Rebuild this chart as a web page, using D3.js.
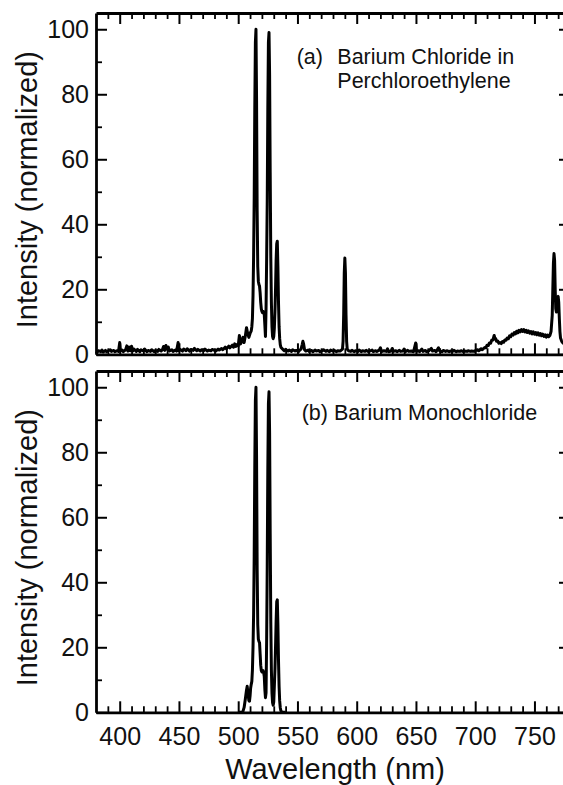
<!DOCTYPE html>
<html>
<head>
<meta charset="utf-8">
<script src="https://cdn.jsdelivr.net/npm/d3@7"></script>
<style>
  html, body { margin: 0; padding: 0; background: #fff; }
  svg { display: block; font-family: "Liberation Sans", Arial, Helvetica, sans-serif; }
</style>
</head>
<body>
<svg id="chart" width="563" height="785"></svg>
<script>
// ---------------- DATA ----------------
const xMajorTicks = [400, 450, 500, 550, 600, 650, 700, 750];
const xMinorTicks = [390, 410, 420, 430, 440, 460, 470, 480, 490, 510, 520, 530, 540, 560, 570, 580, 590,
                     610, 620, 630, 640, 660, 670, 680, 690, 710, 720, 730, 740, 760, 770];
const yMajorTicks = [0, 20, 40, 60, 80, 100];
const yMinorTicks = [10, 30, 50, 70, 90];
const xTitle = "Wavelength (nm)";
const yTitle = "Intensity (normalized)";
const labelA = ["(a)", "Barium Chloride in", "Perchloroethylene"];
const labelB = "(b) Barium Monochloride";

// (a) Barium Chloride in Perchloroethylene  [wavelength nm, normalized intensity]
const spectrumA = [
[380,0.9],[381,0.6],[382,1.1],[384,0.8],[385,1.3],[386,0.7],[388,1.2],[389,0.8],[390,1.0],[392,1.4],[393,0.9],
[395,1.2],[396,0.8],[398,1.1],[399,0.9],[400,3.6],[400.6,1.0],[402,1.3],[403,0.8],[405,1.4],[406,2.6],[407,1.0],
[408,2.2],[409,1.1],[410,2.5],[411,1.0],[412,1.6],[414,0.9],[415,1.5],[417,0.8],[418,1.4],[420,1.0],[421,1.6],
[423,0.8],[424,1.2],[426,0.9],[427,1.4],[429,0.8],[430,1.2],[432,0.9],[433,1.5],[435,1.0],[436,1.4],[437,2.4],
[438,1.2],[439,2.7],[440,1.6],[441,2.2],[442,1.0],[444,1.4],[445,0.9],[447,1.3],[448,1.0],[449.3,3.6],[450,1.1],
[451,1.5],[453,1.0],[454,1.6],[456,1.1],[457,1.7],[459,1.0],[460,1.5],[462,1.2],[463,1.8],[465,1.1],[466,1.5],
[468,1.0],[469,1.4],[471,1.1],[472,1.6],[474,1.0],[475,1.3],[477,1.1],[478,1.5],[480,1.2],[481,1.0],[483,1.6],
[484,1.3],[486,1.8],[487,1.4],[489,2.2],[490,1.7],[492,2.5],[493,2.0],[495,2.8],[496,2.2],[497,3.2],[498,2.4],
[499,3.0],[500,2.6],[501,5.8],[502,3.2],[503,4.0],[504,5.2],[505,3.6],[506,5.6],[507,8.2],[508,6.4],[509,5.2],
[510,6.4],[511,7.2],[511.5,8.5],[512,11],[512.5,18],[513,30],[513.5,48],[514,76],[514.5,96],[515,100],[515.5,78],
[516,44],[516.5,27],[517,22.5],[517.5,21.5],[518,21],[518.5,19],[519,16],[519.5,14],[520,13.2],[520.5,12.8],
[521,13.2],[521.5,12.6],[522,12.3],[522.5,9],[523,5.5],[523.5,14],[524,29],[524.5,47],[525,76],[525.5,96],
[526,99],[526.5,86],[527,56],[527.5,30],[528,16],[528.5,8.5],[529,5.5],[529.5,4.8],[530,5.5],[530.5,8],[531,13],
[531.5,20],[532,29],[532.5,34],[533,34.8],[533.5,27],[534,16],[534.5,8.5],[535,4.8],[535.5,3],[536,2.2],[537,1.8],
[538,1.4],[539,1.1],[540,1.5],[542,1.0],[543,1.3],[545,0.9],[546,1.4],[548,1.0],[549,1.2],[551,0.9],[552,1.3],
[553,1.6],[554,3.0],[554.6,4.0],[555.2,3.2],[556,1.4],[557,1.0],[559,1.3],[560,0.9],[562,1.2],[563,0.8],[565,1.3],
[566,1.0],[568,1.2],[569,0.8],[571,1.1],[572,1.4],[574,0.9],[575,1.2],[577,0.8],[578,1.3],[580,1.0],[581,1.2],
[583,0.8],[584,1.1],[586,1.0],[587,1.3],[588,1.6],[588.5,4],[589,12],[589.5,25],[590,29.6],[590.5,25],[591,12],
[591.5,4],[592,1.6],[593,1.1],[595,0.9],[596,1.2],[598,0.8],[599,1.1],[601,0.9],[602,1.3],[604,0.8],[605,1.1],
[607,0.9],[608,1.2],[610,0.8],[611,1.0],[613,1.3],[614,0.8],[616,1.1],[617,0.9],[619,1.3],[620,2.0],[621,0.8],
[623,1.1],[625,0.9],[626,1.7],[627,0.8],[629,1.0],[630,1.8],[631,0.9],[633,1.1],[634,0.8],[636,1.2],[637,0.9],
[639,1.0],[640,1.6],[641,0.8],[643,1.2],[644,0.9],[646,1.0],[648,0.8],[649.8,3.5],[650.5,0.9],[652,1.1],[653,0.8],
[655,1.6],[656,0.9],[658,1.2],[659,0.8],[661,1.1],[663,1.8],[664,1.0],[666,1.2],[667,0.8],[669,2.0],[670,1.0],
[672,0.8],[673,1.2],[675,0.9],[676,1.1],[678,0.8],[679,1.0],[681,0.9],[682,1.2],[684,0.8],[685,1.0],[687,0.9],
[688,1.1],[690,0.8],[691,1.0],[693,0.9],[694,1.1],[696,0.9],[697,1.0],[699,0.9],[700,1.1],[702,1.4],[703,1.1],
[705,1.7],[706,1.4],[708,2.1],[709,2.0],[710,2.8],[711,2.7],[712,3.5],[713,3.4],[714,4.4],[715,4.4],[716,5.8],
[716.6,5.0],[717.3,4.8],[718,4.0],[719,4.1],[720,3.4],[721,3.6],[722,3.3],[723,3.9],[724,3.7],[725,4.4],[726,4.3],
[727,5.0],[728,4.8],[729,5.7],[730,5.4],[731,6.2],[732,5.9],[733,6.7],[734,6.3],[735,7.1],[736,6.6],[737,7.4],
[738,6.9],[739,7.6],[740,7.0],[741,7.6],[742,6.9],[743,7.4],[744,6.7],[745,7.2],[746,6.5],[747,7.0],[748,6.3],
[749,6.9],[750,6.2],[751,6.7],[752,6.0],[753,6.6],[754,5.9],[755,6.4],[756,5.7],[757,6.2],[758,5.5],[759,6.0],
[760,5.3],[761,5.9],[762,5.4],[763,5.8],[764,7],[765,12],[765.5,20],[766,28],[766.5,31],[767,29],[767.5,20],
[768,14],[768.5,13],[769,15],[769.5,17.5],[770,17.8],[770.5,16],[771,11],[771.5,7],[772,5],[773,4],[774,3.5],
[776,3],[778,2.5],[780,2]
];

// (b) Barium Monochloride
const spectrumB = [
[500,0],[503,0],[504,0.3],[505,1.5],[506,4],[507,6.8],[507.6,8],[508.2,6],[509,3.6],[509.5,3.4],[510,5],
[510.5,7.5],[511,8.6],[511.5,9.5],[512,13],[512.5,20],[513,30],[513.5,48],[514,76],[514.5,96],[515,100],
[515.5,78],[516,44],[516.5,27],[517,22.5],[517.5,21.8],[518,21.5],[518.5,18],[519,14.5],[519.5,12.8],[520,12.4],
[520.5,12.6],[521,12.8],[521.5,12.2],[522,11],[522.5,7],[523,4.5],[523.5,6],[524,22],[524.5,45],[525,75],
[525.5,95],[526,98.6],[526.5,86],[527,55],[527.5,28],[528,13],[528.5,6],[529,3],[529.5,2.2],[530,3.2],[530.5,8],
[531,13],[531.5,20],[532,28],[532.5,34],[533,34.6],[533.5,27],[534,16],[534.5,8],[535,3.5],[535.5,1.4],[536,0.5],
[537,0],[540,0]
];

// ---------------- LAYOUT ----------------
const svg = d3.select("#chart");
const left = 96, right = 570;
const panels = [
  { top: 13, bottom: 354.3, data: spectrumA, xLabels: false },
  { top: 371, bottom: 712.3, data: spectrumB, xLabels: true }
];
const x = d3.scaleLinear().domain([380, 780]).range([left, right]);
const FONT = '"Liberation Sans", Arial, Helvetica, sans-serif';

function styleAxis(g) {
  g.select(".domain").attr("stroke", "#000").attr("stroke-width", 2.8);
  g.selectAll(".tick line").attr("stroke", "#000").attr("stroke-width", 2);
  g.selectAll(".tick text").attr("fill", "#111").attr("font-size", 25).attr("font-family", FONT);
}
function minor(g) {
  g.select(".domain").remove();
  g.selectAll(".tick line").attr("stroke", "#000").attr("stroke-width", 1.8);
}

panels.forEach((p, i) => {
  const y = d3.scaleLinear().domain([0, 105]).range([p.bottom, p.top]);
  const g = svg.append("g");

  // data line
  const line = d3.line().x(d => x(d[0])).y(d => y(d[1]));
  g.append("path").datum(p.data)
    .attr("fill", "none").attr("stroke", "#000").attr("stroke-width", 3)
    .attr("stroke-linejoin", "round").attr("d", line);

  // left axis
  g.append("g").attr("transform", `translate(${left},0)`)
    .call(d3.axisLeft(y).tickValues(yMinorTicks).tickSizeInner(-6).tickSizeOuter(0).tickFormat("")).call(minor);
  g.append("g").attr("transform", `translate(${left},0)`)
    .call(d3.axisLeft(y).tickValues(yMajorTicks).tickSizeInner(-11).tickSizeOuter(0).tickPadding(7).tickFormat(d3.format("d")))
    .call(styleAxis);
  // right axis
  g.append("g").attr("transform", `translate(${right},0)`)
    .call(d3.axisRight(y).tickValues(yMinorTicks).tickSizeInner(-6).tickSizeOuter(0).tickFormat("")).call(minor);
  g.append("g").attr("transform", `translate(${right},0)`)
    .call(d3.axisRight(y).tickValues(yMajorTicks).tickSizeInner(-11).tickSizeOuter(0).tickFormat(""))
    .call(styleAxis);
  // top axis
  g.append("g").attr("transform", `translate(0,${p.top})`)
    .call(d3.axisTop(x).tickValues(xMinorTicks).tickSizeInner(-6).tickSizeOuter(0).tickFormat("")).call(minor);
  g.append("g").attr("transform", `translate(0,${p.top})`)
    .call(d3.axisTop(x).tickValues(xMajorTicks).tickSizeInner(-11).tickSizeOuter(0).tickFormat(""))
    .call(styleAxis);
  // bottom axis
  g.append("g").attr("transform", `translate(0,${p.bottom})`)
    .call(d3.axisBottom(x).tickValues(xMinorTicks).tickSizeInner(-6).tickSizeOuter(0).tickFormat("")).call(minor);
  g.append("g").attr("transform", `translate(0,${p.bottom})`)
    .call(d3.axisBottom(x).tickValues(xMajorTicks).tickSizeInner(-11).tickSizeOuter(0).tickPadding(15)
      .tickFormat(p.xLabels ? d3.format("d") : ""))
    .call(styleAxis);

  // y title
  const cy = (p.top + p.bottom) / 2 + 6;
  svg.append("text")
    .attr("transform", `translate(37,${cy}) rotate(-90)`)
    .attr("text-anchor", "middle")
    .attr("font-size", 29).attr("font-family", FONT).attr("fill", "#111")
    .text(yTitle);
});

// annotations
svg.append("text").attr("x", 296.7).attr("y", 64.3).attr("font-size", 21.5).attr("font-family", FONT).attr("fill", "#111").text(labelA[0]);
svg.append("text").attr("x", 337.3).attr("y", 64.3).attr("font-size", 21.5).attr("font-family", FONT).attr("fill", "#111").text(labelA[1]);
svg.append("text").attr("x", 337.3).attr("y", 88.3).attr("font-size", 21.5).attr("font-family", FONT).attr("fill", "#111").text(labelA[2]);
svg.append("text").attr("x", 301.7).attr("y", 420).attr("font-size", 21.5).attr("font-family", FONT).attr("fill", "#111").text(labelB);

// x title
svg.append("text").attr("x", (left + right) / 2 + 2).attr("y", 779)
  .attr("text-anchor", "middle").attr("font-size", 29).attr("font-family", FONT).attr("fill", "#111")
  .text(xTitle);
</script>
</body>
</html>
